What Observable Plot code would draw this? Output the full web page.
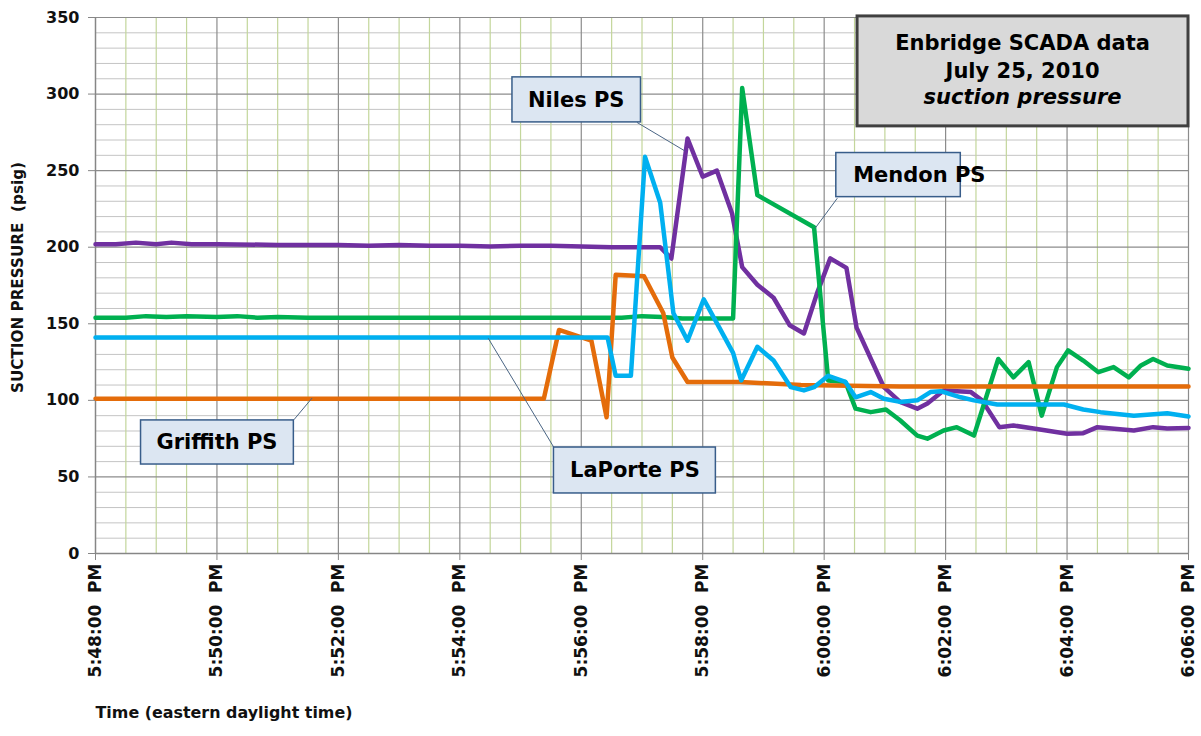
<!DOCTYPE html>
<html>
<head>
<meta charset="utf-8">
<script src="https://cdn.jsdelivr.net/npm/d3@7"></script>
<script src="https://cdn.jsdelivr.net/npm/@observablehq/plot@0.6"></script>
<style>
  html, body { margin: 0; padding: 0; background: #fff; }
  #chart { width: 1201px; height: 736px; }
</style>
</head>
<body>
<div id="chart"></div>
<script>
// ---- data (time EDT, suction pressure psig) ----
const niles = [
  ["17:48:00",202],["17:48:20",202],["17:48:40",203],["17:49:00",202],["17:49:15",203],["17:49:35",202],
  ["17:50:00",202],["17:51:00",201.5],["17:52:00",201.5],["17:52:30",201],["17:53:00",201.5],["17:53:30",201],
  ["17:54:00",201],["17:54:30",200.5],["17:55:00",201],["17:55:30",201],["17:56:00",200.5],["17:56:30",200],
  ["17:57:18",200],["17:57:29",192.6],["17:57:45",271],["17:58:00",246],["17:58:14",250],["17:58:29",222],
  ["17:58:39",187],["17:58:54",175.5],["17:59:10",167],["17:59:26",149],["17:59:40",143.7],["17:59:53",170],
  ["18:00:06",192.7],["18:00:22",186.5],["18:00:32",147.5],["18:00:59",108.6],["18:01:15",99],["18:01:32",94.6],
  ["18:01:42",98],["18:01:58",106.5],["18:02:25",105.4],["18:02:36",100],["18:02:53",82.5],["18:03:07",83.6],
  ["18:03:27",81.6],["18:04:00",78.2],["18:04:16",78.6],["18:04:30",82.5],["18:05:06",80.3],["18:05:25",82.5],
  ["18:05:39",81.6],["18:06:00",82]
];
const mendon = [
  ["17:48:00",154],["17:48:30",154],["17:48:50",155],["17:49:10",154.5],["17:49:30",155],["17:50:00",154.5],
  ["17:50:20",155],["17:50:40",154],["17:51:00",154.5],["17:51:30",154],["17:52:00",154],["17:53:00",154],
  ["17:54:00",154],["17:55:00",154],["17:56:00",154],["17:56:40",154],["17:57:00",155],["17:57:20",154.5],
  ["17:57:40",153.5],["17:58:30",153.5],["17:58:39",304],["17:58:54",234],["17:59:50",213],["18:00:04",113],
  ["18:00:21",112],["18:00:31",94.6],["18:00:46",92.3],["18:01:01",94],["18:01:15",87],["18:01:32",77],
  ["18:01:42",75],["18:01:58",80.3],["18:02:11",82.5],["18:02:28",77],["18:02:41",104],["18:02:52",127],
  ["18:03:07",115],["18:03:22",125],["18:03:35",90],["18:03:50",121.7],["18:04:01",132.6],["18:04:16",126],
  ["18:04:31",118.4],["18:04:46",121.7],["18:05:01",115],["18:05:13",122.8],["18:05:25",127],["18:05:39",122.8],
  ["18:06:00",120.7]
];
const laporte = [
  ["17:48:00",141],["17:56:26",141],["17:56:34",116],["17:56:49",116],["17:57:03",259],["17:57:18",229],
  ["17:57:31",157],["17:57:45",139],["17:58:01",166],["17:58:16",148],["17:58:30",131],["17:58:38",113],
  ["17:58:54",135],["17:59:10",126],["17:59:27",108.6],["17:59:40",106.5],["17:59:50",108.6],["18:00:04",116],
  ["18:00:21",112],["18:00:31",102],["18:00:46",105.4],["18:00:59",101],["18:01:15",99],["18:01:32",100],
  ["18:01:45",105.4],["18:01:55",106],["18:02:15",102],["18:02:28",100],["18:02:51",97.3],["18:03:27",97.3],
  ["18:03:57",97.3],["18:04:16",94],["18:04:33",92.3],["18:05:06",90],["18:05:39",91.6],["18:06:00",89.5]
];
const griffith = [
  ["17:48:00",101],["17:55:23",101],["17:55:38",146],["17:56:01",141],["17:56:10",139],["17:56:25",89],
  ["17:56:34",182],["17:57:02",181],["17:57:21",157],["17:57:30",128],["17:57:45",112],["17:58:37",112],
  ["17:59:37",110],["18:01:15",109],["18:06:00",109]
];
const seriesNames = ["Niles PS","Mendon PS","Griffith PS","LaPorte PS"];
const seriesColors = ["#7030a0","#00b050","#e46c0a","#00b0f0"];
const yTickValues = [0,50,100,150,200,250,300,350];
const titleLines = ["Enbridge SCADA data","July 25, 2010","suction pressure"];
const yTitle = "SUCTION PRESSURE  (psig)";
const xTitle = "Time (eastern daylight time)";

// ---- helpers ----
const T = s => { const [h,m,sec] = s.split(":").map(Number); return new Date(Date.UTC(2010,6,25,h,m,sec)); };
const toRows = (name, arr) => arr.map(([t,v]) => ({series:name, time:T(t), psig:v}));
const rows = [
  ...toRows("Niles PS", niles),
  ...toRows("Mendon PS", mendon),
  ...toRows("Griffith PS", griffith),
  ...toRows("LaPorte PS", laporte)
];
const start = T("17:48:00"), end = T("18:06:00");
const majorX = d3.utcMinute.every(2).range(start, new Date(+end + 1));
const minorX = d3.utcSecond.every(30).range(start, new Date(+end + 1)).filter(d => d.getUTCSeconds() !== 0 || d.getUTCMinutes() % 2 !== 0);
const minorY = d3.range(10, 351, 10).filter(v => v % 50 !== 0);
const fmt = d => {
  const h = d.getUTCHours() % 12 || 12;
  const p = n => String(n).padStart(2,"0");
  return `${h}:${p(d.getUTCMinutes())}:${p(d.getUTCSeconds())}\u00a0\u00a0PM`;
};

// annotation layout (data coordinates)
const callouts = [
  {label:"Niles PS",    t1:T("17:54:52"), t2:T("17:56:59"), v1:281.5, v2:310.9, tc:T("17:55:55"), vc:296.2, lt1:T("17:56:55"), lv1:281.5, lt2:T("17:57:42"), lv2:263},
  {label:"Mendon PS",   t1:T("18:00:12"), t2:T("18:02:15"), v1:232.7, v2:261.5, tc:T("18:01:34"), vc:247.1, lt1:T("18:00:13"), lv1:232,   lt2:T("17:59:51"), lv2:212.3},
  {label:"Griffith PS", t1:T("17:48:45"), t2:T("17:51:16"), v1:58.1,  v2:86.9,  tc:T("17:50:00"), vc:72.5,  lt1:T("17:51:16"), lv1:87.3,  lt2:T("17:51:34"), lv2:101.5},
  {label:"LaPorte PS",  t1:T("17:55:33"), t2:T("17:58:13"), v1:39.2,  v2:69.2,  tc:T("17:56:53"), vc:54.2,  lt1:T("17:55:33"), lv1:69.2,  lt2:T("17:54:28"), lv2:140.6}
];
const titleBox = {t1:T("18:00:33"), t2:T("18:06:00"), v1:278.9, v2:350.7, tc:T("18:03:16")};
const titleY = [333.3, 315, 298];

const lineMarks = seriesNames.map((name, i) =>
  Plot.line(rows.filter(r => r.series === name), {
    x:"time", y:"psig", stroke: seriesColors[i], strokeWidth: 4.5, strokeLinejoin:"round", strokeLinecap:"round"
  })
);

const chart = Plot.plot({
  width: 1201, height: 736,
  marginLeft: 95, marginRight: 13, marginTop: 17, marginBottom: 183,
  style: {fontFamily: "'DejaVu Sans', sans-serif", fontWeight: "bold", fontSize: "16px", color: "#111", background: "#fff", overflow: "visible"},
  x: {type: "utc", domain: [start, end]},
  y: {domain: [0, 350]},
  marks: [
    Plot.ruleY(minorY, {stroke: "#c4c4c4", strokeWidth: 1}),
    Plot.ruleX(minorX, {stroke: "#c3d69b", strokeWidth: 1.2}),
    Plot.ruleY(yTickValues.filter(v => v > 0), {stroke: "#8c8c8c", strokeWidth: 1.2}),
    Plot.ruleX(majorX.filter(d => +d !== +start), {stroke: "#8c8c8c", strokeWidth: 1.2}),
    Plot.ruleX([start], {stroke: "#868686", strokeWidth: 1.5}),
    Plot.ruleY([0], {stroke: "#868686", strokeWidth: 1.5}),
    ...lineMarks,
    // callouts
    Plot.link(callouts, {x1:"lt1", y1:"lv1", x2:"lt2", y2:"lv2", stroke:"#4a6584", strokeWidth:1}),
    Plot.rect(callouts, {x1:"t1", x2:"t2", y1:"v1", y2:"v2", fill:"#dce6f2", stroke:"#385d8a", strokeWidth:1.5}),
    Plot.text(callouts, {x:"tc", y:"vc", text:"label", fontSize:21, fontWeight:"bold", fill:"#000"}),
    // title box
    Plot.rect([titleBox], {x1:"t1", x2:"t2", y1:"v1", y2:"v2", fill:"#d9d9d9", stroke:"#404040", strokeWidth:3}),
    Plot.text(titleLines.slice(0,2), {x: () => titleBox.tc, y: (d,i) => titleY[i], text: d => d, fontSize:21, fontWeight:"bold", fill:"#000"}),
    Plot.text([titleLines[2]], {x: () => titleBox.tc, y: () => titleY[2], text: d => d, fontSize:21, fontWeight:"bold", fontStyle:"italic", fill:"#000"}),
    // axes
    Plot.axisY({ticks: yTickValues, tickSize: 7, tickPadding: 9, fontSize: 16, stroke: "#868686", fill: "#111", label: null}),
    Plot.axisX({ticks: majorX, tickFormat: fmt, tickRotate: -90, tickSize: 7, tickPadding: 3, fontSize: 17, stroke: "#868686", fill: "#111", label: null}),
    Plot.text([yTitle], {frameAnchor: "left", dx: -77, dy: -8, rotate: -90, textAnchor: "middle", text: d => d, fontSize: 15, fontWeight: "bold", fill: "#111", className: "ytitle"}),
    Plot.text([xTitle], {frameAnchor: "bottom-left", dy: 164, textAnchor: "start", text: d => d, fontSize: 16, fontWeight: "bold", fill: "#111", className: "xtitle"})
  ]
});
document.getElementById("chart").appendChild(chart);
// fit axis titles to the reference lengths
d3.select(chart).selectAll(".ytitle text").attr("textLength", 231).attr("lengthAdjust", "spacingAndGlyphs");
d3.select(chart).selectAll(".xtitle text").attr("textLength", 257).attr("lengthAdjust", "spacingAndGlyphs");
</script>
</body>
</html>
